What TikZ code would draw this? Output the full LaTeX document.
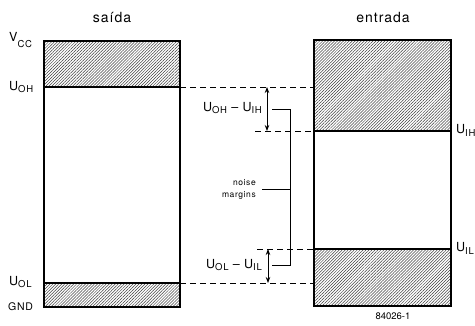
\documentclass[tikz,border=0pt]{standalone}
\usepackage{fontspec}
\setmainfont{TeX Gyre Heros}
\newfontfamily\lblfont[LetterSpace=7]{TeX Gyre Heros}
\usetikzlibrary{patterns.meta,arrows.meta}
\newcommand\lsub[1]{\raisebox{-0.45ex}{\fontsize{9.5}{10}\selectfont #1}}
\begin{document}
\begin{tikzpicture}[x=1pt,y=-1pt,
  box/.style={line width=1.8pt},
  inner/.style={line width=1.1pt},
  hatch/.style={pattern={Lines[angle=45,distance=2.1pt,line width=0.5pt]},pattern color=black!75},
  lvl/.style={dash pattern=on 6pt off 4pt, line width=0.9pt},
  lbl/.style={font=\lblfont\fontsize{12.5}{13}\selectfont, inner sep=0pt},
  ttl/.style={font=\lblfont\fontsize{14}{15}\selectfont, inner sep=0pt},
  small/.style={font=\lblfont\fontsize{8.5}{12}\selectfont, inner sep=0pt, align=right},
  dim/.style={line width=0.9pt,{Stealth[length=6pt,width=4.5pt]}-{Stealth[length=6pt,width=4.5pt]}},
  brk/.style={line width=1pt}
]
\useasboundingbox (0,0) rectangle (475,325);
% left box (saida)
\coordinate (A1) at (44,41);  \coordinate (A2) at (180,307);
\coordinate (AOH) at (180,87); \coordinate (AOL) at (180,283);
\fill[white] (A1) rectangle (A2);
\fill[hatch] (44,41) rectangle (AOH);
\fill[hatch] (44,283) rectangle (A2);
\draw[inner] (44,87) -- (AOH);
\draw[inner] (44,283) -- (AOL);
\draw[box] (A1) rectangle (A2);
% right box (entrada)
\coordinate (B1) at (314,40);  \coordinate (B2) at (451,306);
\coordinate (BIH) at (314,131); \coordinate (BIL) at (314,249);
\coordinate (BOH) at (314,87);  \coordinate (BOL) at (314,283);
\fill[hatch] (B1) rectangle (451,131);
\fill[hatch] (314,249) rectangle (B2);
\draw[inner] (BIH) -- (451,131);
\draw[inner] (BIL) -- (451,249);
\draw[box] (B1) rectangle (B2);
% titles
\node[ttl] (saida) at (112,17) {saída};
\node[ttl] (entrada) at (383,17) {entrada};
% left labels
\node[lbl, anchor=west] (vcc) at (9,40) {\raisebox{0.5ex}{V}\lsub{CC}};
\node[lbl, anchor=west] (uoh) at (9,87) {U\lsub{OH}};
\node[lbl, anchor=west] (uol) at (9,282) {U\lsub{OL}};
\node[lbl, anchor=west, font=\lblfont\fontsize{10.5}{11}\selectfont] (gnd) at (8,307) {GND};
% right labels
\node[lbl, anchor=west] (uih) at (456,130) {U\lsub{IH}};
\node[lbl, anchor=west] (uil) at (456,248) {U\lsub{IL}};
% dashed levels
\coordinate (DIH) at (255,131); \coordinate (DIL) at (257,249);
\draw[lvl] (AOH) -- (BOH);
\draw[lvl] (AOL) -- (BOL);
\draw[lvl] (DIH) -- (BIH);
\draw[lvl] (DIL) -- (BIL);
% dimension arrows
\coordinate (U1) at (267,87); \coordinate (U2) at (267,131);
\coordinate (L1) at (268,249); \coordinate (L2) at (268,283);
\draw[dim] (U1) -- (U2);
\draw[dim] (L1) -- (L2);
\node[lbl, anchor=east] (dh) at (262,108) {U\lsub{OH} – U\lsub{IH}};
\node[lbl, anchor=east] (dl) at (262,265) {U\lsub{OL} – U\lsub{IL}};
% bracket
\coordinate (K1) at (272,109); \coordinate (K2) at (290,109);
\coordinate (K3) at (290,265); \coordinate (K4) at (272,265);
\coordinate (KM) at (290,189); \coordinate (KN) at (262,189);
\draw[brk] (K1) -- (K2) -- (K3) -- (K4);
\draw[brk] (KN) -- (KM);
\node[small, anchor=east] (nm) at (256,189) {noise\\margins};
% figure number
\node[font=\fontsize{9.5}{10}\selectfont, inner sep=0pt] (num) at (393,316) {84026-1};
\end{tikzpicture}
\end{document}
